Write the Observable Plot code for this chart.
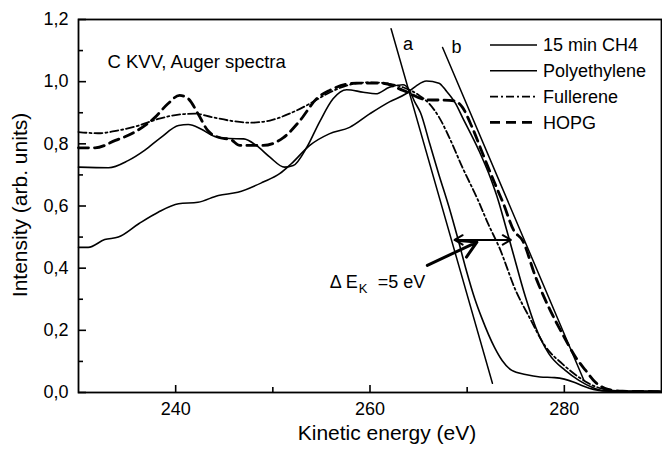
<!DOCTYPE html>
<html><head><meta charset="utf-8">
<script src="https://cdn.jsdelivr.net/npm/d3@7"></script>
<script src="https://cdn.jsdelivr.net/npm/@observablehq/plot@0.6"></script>
<style>
html,body{margin:0;padding:0;background:#fff;}
#wrap{position:relative;width:662px;height:450px;overflow:hidden;background:#fff;}
#legend{position:absolute;left:0;top:0;pointer-events:none;}
</style></head><body><div id="wrap"></div>
<script>
const FONT = "'Liberation Sans', Arial, Helvetica, sans-serif";

// ---- data ----
const seriesNames = ["15 min CH4", "Polyethylene", "Fullerene", "HOPG"];

const ch4X = [230, 233.1, 235.1, 236.8, 238.5, 240.3, 241.3, 242.6, 244.0, 245.5, 247.0, 248.3, 249.7, 251.2, 252.1, 253.5, 254.8, 256.2, 257.6, 259.3, 260.6, 262.0, 263.4, 264.0, 264.6, 265.2, 266.15, 267.1, 268.1, 269.0, 269.85, 270.8, 271.5, 272.8, 273.6, 274.6, 276.0, 277.5, 279.0, 280.0, 281.0, 282.0, 283.0, 284.0, 286.0, 290.0];
const ch4Y = [0.725, 0.723, 0.746, 0.779, 0.821, 0.859, 0.862, 0.848, 0.824, 0.817, 0.816, 0.795, 0.757, 0.725, 0.73, 0.789, 0.87, 0.945, 0.974, 0.966, 0.961, 0.982, 0.99, 0.975, 0.935, 0.9, 0.8, 0.7, 0.6, 0.5, 0.4, 0.3, 0.24, 0.146, 0.103, 0.071, 0.058, 0.05, 0.048, 0.043, 0.033, 0.02, 0.01, 0.005, 0.004, 0.004];

const peX = [230, 231, 232.7, 234.1, 236.2, 238.2, 240.3, 242.3, 244.4, 246.4, 249.0, 250.7, 251.9, 253.8, 255.8, 257.9, 260.0, 262.0, 263.7, 264.7, 265.8, 267.1, 267.8, 268.8, 269.5, 271.2, 272.4, 273.2, 274.0, 274.65, 276.0, 277.05, 278.4, 280.1, 281.5, 282.85, 284.0, 286.0, 290.0];
const peY = [0.467, 0.467, 0.492, 0.50, 0.543, 0.58, 0.607, 0.612, 0.634, 0.644, 0.677, 0.704, 0.736, 0.795, 0.832, 0.853, 0.897, 0.935, 0.961, 0.985, 1.002, 0.995, 0.972, 0.93, 0.886, 0.779, 0.69, 0.618, 0.53, 0.457, 0.307, 0.21, 0.125, 0.071, 0.039, 0.017, 0.006, 0.004, 0.003];

const fulX = [230, 232.0, 234.1, 236.2, 238.2, 240.3, 242.0, 243.7, 245.7, 247.6, 249.7, 251.7, 253.8, 255.9, 257.9, 260.0, 262.0, 263.4, 265.1, 266.1, 267.1, 268.15, 269.5, 271.1, 272.2, 273.3, 275.0, 276.4, 278.1, 279.8, 281.5, 282.9, 284.5, 286.0, 290.0];
const fulY = [0.838, 0.834, 0.843, 0.859, 0.88, 0.894, 0.897, 0.886, 0.874, 0.868, 0.875, 0.897, 0.929, 0.966, 0.99, 0.998, 0.993, 0.982, 0.955, 0.929, 0.886, 0.821, 0.725, 0.62, 0.54, 0.467, 0.328, 0.242, 0.146, 0.092, 0.049, 0.023, 0.008, 0.004, 0.003];

const hopgX = [230, 231.7, 233.8, 235.8, 237.9, 239.2, 240.4, 241.3, 242.3, 243.3, 244.4, 245.7, 246.6, 249.0, 251.05, 252.8, 254.5, 255.85, 258.6, 261.3, 263.4, 265.8, 268.15, 268.7, 269.5, 270.5, 271.6, 273.0, 273.7, 274.8, 275.7, 277.05, 278.4, 279.8, 281.15, 282.2, 283.2, 284.5, 286.0, 290.0];
const hopgY = [0.787, 0.787, 0.811, 0.838, 0.886, 0.929, 0.956, 0.945, 0.897, 0.843, 0.821, 0.813, 0.795, 0.795, 0.819, 0.875, 0.945, 0.972, 0.995, 0.995, 0.972, 0.942, 0.94, 0.938, 0.918, 0.854, 0.768, 0.661, 0.61, 0.521, 0.489, 0.371, 0.274, 0.189, 0.114, 0.071, 0.033, 0.01, 0.004, 0.003];

// tangent lines a and b
const lineAX = [262.17, 272.6], lineAY = [1.17, 0.03];
const lineBX = [267.47, 282.0], lineBY = [1.11, 0.04];
const lineLabels = ["a", "b"], lineLabelX = [263.9, 268.9], lineLabelY = [1.122, 1.112];

// ΔE arrow annotation
const deArrowX = [268.7, 274.5], deArrowY = 0.491, deArrowMid = 271.6;
const pointerX = [265.9, 271.0], pointerY = [0.409, 0.484];
const deLabelX = 255.85, deLabelY = 0.335;

// axis ticks
const xMajor = [240, 260, 280], xMinor = [250, 270];
const yMajor = [0, 0.2, 0.4, 0.6, 0.8, 1.0, 1.2], yMinor = [0.1, 0.3, 0.5, 0.7, 0.9, 1.1];

// ---- build ----
const toRows = (xs, ys) => xs.map((x, i) => ({x, y: ys[i]}));
const ch4 = toRows(ch4X, ch4Y), pe = toRows(peX, peY), ful = toRows(fulX, fulY), hopg = toRows(hopgX, hopgY);
const lineA = toRows(lineAX, lineAY), lineB = toRows(lineBX, lineBY);
const labelsAB = lineLabels.map((t, i) => ({t, x: lineLabelX[i], y: lineLabelY[i]}));
const deArrows = deArrowX.map(x2 => ({x1: deArrowMid, x2, y: deArrowY}));

const W = 662, H = 450, mL = 78, mR = 1, mT = 19, mB = 58;
const pw = W - mL - mR, ph = H - mT - mB;

const styles = {
  ch4: {stroke: "black", strokeWidth: 1.6},
  pe: {stroke: "black", strokeWidth: 1.6},
  ful: {stroke: "black", strokeWidth: 1.8, strokeDasharray: "8,3,2,3"},
  hopg: {stroke: "black", strokeWidth: 2.8, strokeDasharray: "10,6"}
};

const plot = Plot.plot({
  width: W, height: H,
  marginLeft: mL, marginRight: mR, marginTop: mT, marginBottom: mB,
  style: {fontFamily: FONT, fontSize: "18px", color: "black", background: "white", overflow: "visible"},
  x: {domain: [230, 290], label: null},
  y: {domain: [0, 1.2], label: null},
  marks: [
    Plot.line(pe, {x: "x", y: "y", curve: "monotone-x", ...styles.pe}),
    Plot.line(ch4, {x: "x", y: "y", curve: "monotone-x", ...styles.ch4}),
    Plot.line(ful, {x: "x", y: "y", curve: "monotone-x", ...styles.ful}),
    Plot.line(hopg, {x: "x", y: "y", curve: "monotone-x", ...styles.hopg}),
    Plot.line(lineA, {x: "x", y: "y", stroke: "black", strokeWidth: 1.5}),
    Plot.line(lineB, {x: "x", y: "y", stroke: "black", strokeWidth: 1.5}),
    Plot.text(labelsAB, {x: "x", y: "y", text: "t", fontSize: 18, fill: "black"}),
    Plot.arrow(deArrows, {x1: "x1", x2: "x2", y1: "y", y2: "y", stroke: "black", strokeWidth: 2, headLength: 9}),
    Plot.arrow([0], {x1: pointerX[0], x2: pointerX[1], y1: pointerY[0], y2: pointerY[1], stroke: "black", strokeWidth: 3, headLength: 10}),
    Plot.text(["\u0394 E"], {x: deLabelX, y: deLabelY, textAnchor: "start", lineAnchor: "bottom", fontSize: 18}),
    Plot.text(["K"], {x: deLabelX, y: deLabelY, dx: 29, dy: 5, textAnchor: "start", lineAnchor: "bottom", fontSize: 13}),
    Plot.text(["=5 eV"], {x: deLabelX, y: deLabelY, dx: 48, textAnchor: "start", lineAnchor: "bottom", fontSize: 18}),
    Plot.text(["C KVV, Auger spectra"], {frameAnchor: "top-left", dx: 29, dy: 35, textAnchor: "start", fontSize: 18.5}),
    Plot.tickX(xMajor, {x: d => d, insetTop: ph - 7, strokeWidth: 1.6}),
    Plot.tickX(xMinor, {x: d => d, insetTop: ph - 5, strokeWidth: 1.6}),
    Plot.tickY(yMajor, {y: d => d, insetRight: pw - 8, strokeWidth: 1.6}),
    Plot.tickY(yMinor, {y: d => d, insetRight: pw - 5, strokeWidth: 1.6}),
    Plot.axisX(xMajor, {tickSize: 0, tickPadding: 10, fontSize: 18, tickFormat: d => String(d), label: null}),
    Plot.axisY(yMajor, {tickSize: 0, tickPadding: 10, fontSize: 18, tickFormat: d => d.toFixed(1).replace(".", ","), label: null}),
    Plot.text(["Kinetic energy (eV)"], {frameAnchor: "bottom", textAnchor: "middle", dx: 17, dy: 47, fontSize: 21}),
    Plot.text(["Intensity (arb. units)"], {frameAnchor: "left", textAnchor: "middle", rotate: -90, dx: -58, dy: -1, fontSize: 21}),
    Plot.frame({stroke: "black", strokeWidth: 1.8})
  ]
});

const wrap = document.getElementById("wrap");
wrap.appendChild(plot);

// legend overlay (inside plot frame, top right)
const legendItems = [
  {name: seriesNames[0], st: styles.ch4},
  {name: seriesNames[1], st: styles.pe},
  {name: seriesNames[2], st: styles.ful},
  {name: seriesNames[3], st: styles.hopg}
];
const lg = d3.create("svg").attr("id", "legend").attr("width", W).attr("height", H);
const rowY0 = 45, rowStep = 25.8, lineX0 = 490, lineX1 = 537, textX = 543;
legendItems.forEach((it, i) => {
  const yy = rowY0 + i * rowStep;
  lg.append("line").attr("x1", lineX0).attr("x2", lineX1).attr("y1", yy).attr("y2", yy)
    .attr("stroke", it.st.stroke).attr("stroke-width", it.st.strokeWidth)
    .attr("stroke-dasharray", it.st.strokeDasharray || null);
  lg.append("text").attr("x", textX).attr("y", yy).attr("dy", "0.35em")
    .attr("font-family", FONT).attr("font-size", 18).attr("fill", "black").text(it.name);
});
wrap.appendChild(lg.node());
</script></body></html>
